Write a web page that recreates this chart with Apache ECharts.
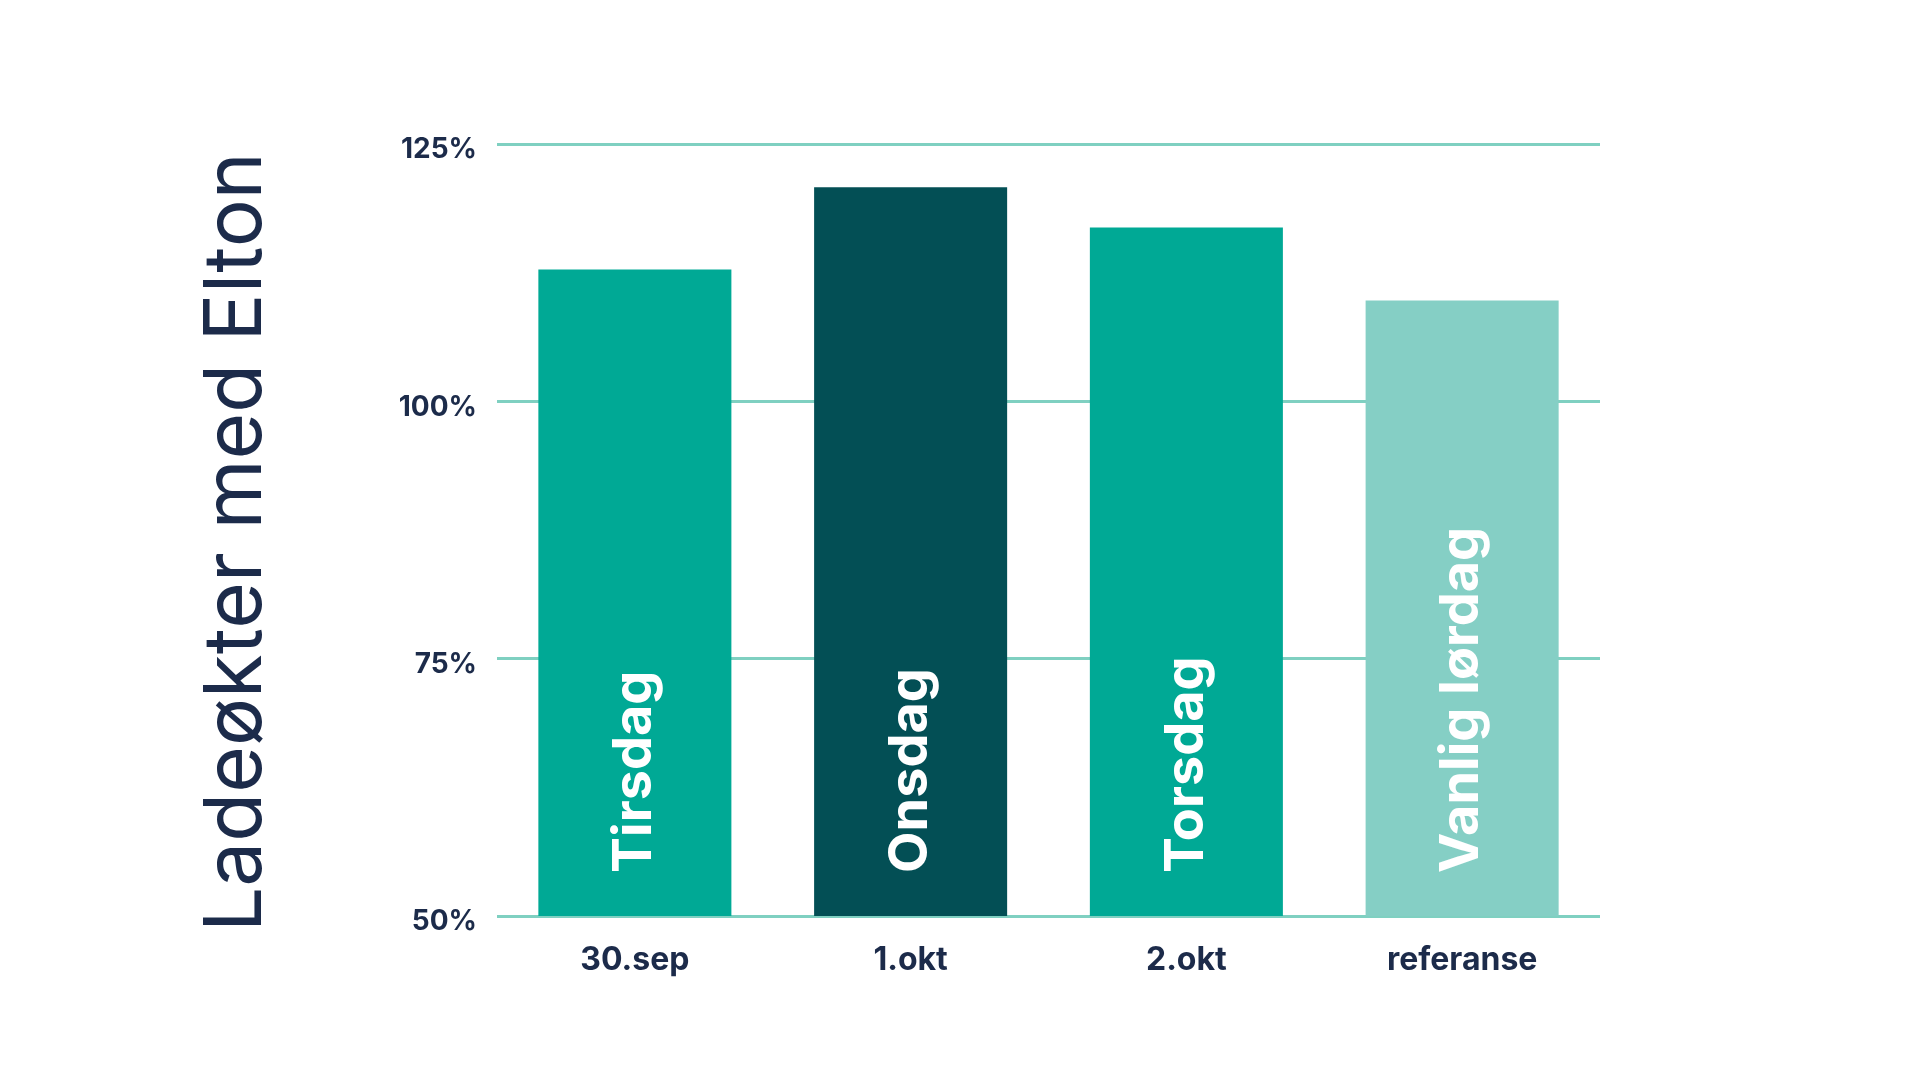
<!DOCTYPE html>
<html>
<head>
<meta charset="utf-8">
<script src="https://cdn.jsdelivr.net/npm/echarts@6/dist/echarts.min.js"></script>
<style>
html,body{margin:0;padding:0;background:#fff;}
#chart{width:1920px;height:1090px;}
</style>
</head>
<body>
<div id="chart"></div>
<script>
const categories = ['30.sep', '1.okt', '2.okt', 'referanse'];
const dayLabels = ['Tirsdag', 'Onsdag', 'Torsdag', 'Vanlig lørdag'];
const values = [112.8, 120.8, 116.9, 109.8];
const yTicks = [50, 75, 100, 125];
const yTitle = 'Ladeøkter med Elton';

const barColors = ['#00A995', '#034F55', '#00A995', '#85CFC5'];
const navy = '#1C2B4A';
const gridColor = '#7FD0C1';

const chart = echarts.init(document.getElementById('chart'));
chart.setOption({
  backgroundColor: '#ffffff',
  animation: false,
  grid: { left: 497, right: 320, top: 144, bottom: 174 },
  xAxis: {
    type: 'category',
    data: categories,
    axisLine: { show: false },
    axisTick: { show: false },
    axisLabel: {
      color: navy, fontFamily: 'Inter', fontWeight: 700, fontSize: 32, margin: 28
    }
  },
  yAxis: {
    type: 'value',
    min: yTicks[0], max: yTicks[yTicks.length - 1], interval: 25,
    name: yTitle,
    nameLocation: 'middle',
    nameRotate: 90,
    nameGap: 220,
    nameTextStyle: { color: navy, fontFamily: 'Inter', fontWeight: 400, fontSize: 80, padding: [0, 24, 0, 0] },
    axisLine: { show: false },
    axisTick: { show: false },
    splitLine: { lineStyle: { color: gridColor, width: 3 } },
    axisLabel: {
      color: navy, fontFamily: 'Inter', fontWeight: 700, fontSize: 28, margin: 20,
      verticalAlign: 'top', lineHeight: 12,
      formatter: v => v + '%'
    }
  },
  series: [{
    type: 'bar',
    barWidth: '70%',
    data: values.map((v, i) => ({ value: v, itemStyle: { color: barColors[i] } })),
    label: {
      show: true,
      position: 'insideBottom',
      rotate: 90,
      align: 'left',
      verticalAlign: 'middle',
      distance: 43,
      color: '#ffffff',
      fontFamily: 'Inter',
      fontWeight: 700,
      fontSize: 54,
      formatter: p => dayLabels[p.dataIndex]
    }
  }]
});
</script>
</body>
</html>
